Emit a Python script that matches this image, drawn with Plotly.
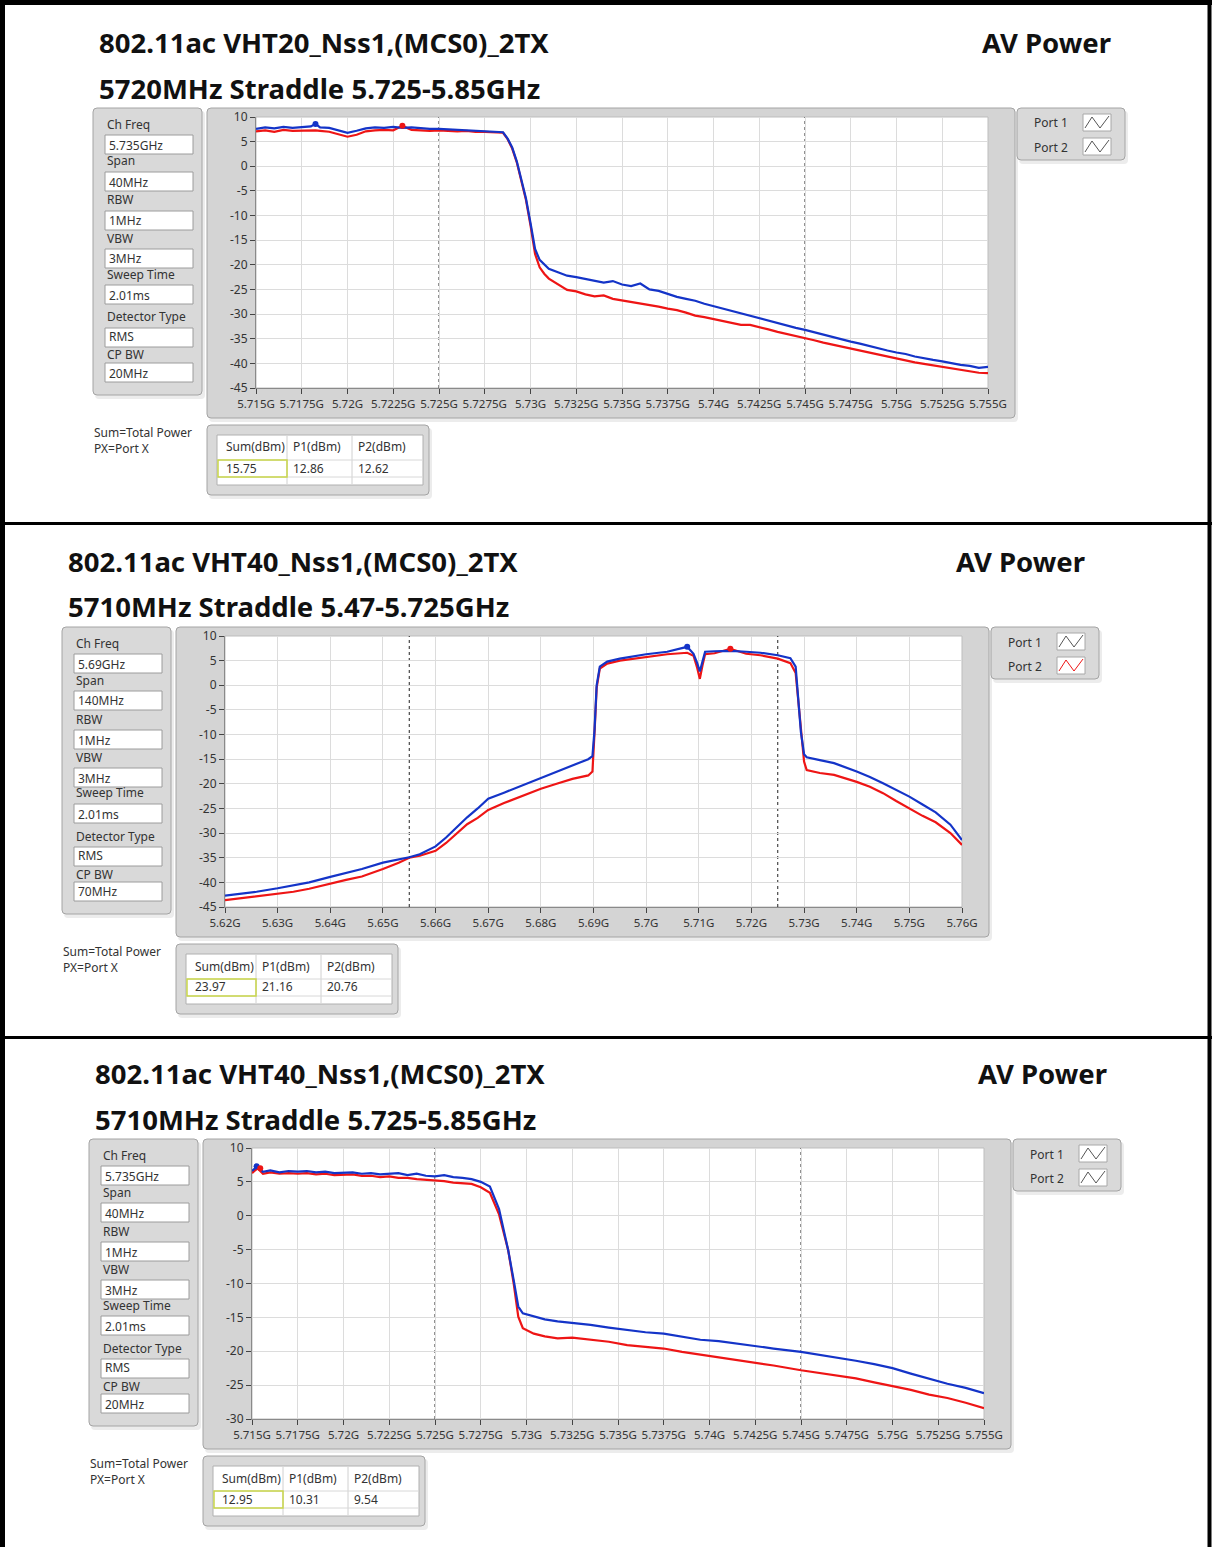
import plotly.graph_objects as go

W, H = 1212, 1547

# ---------------- data ----------------
titles_1 = ["802.11ac VHT20_Nss1,(MCS0)_2TX", "5720MHz Straddle 5.725-5.85GHz"]
titles_2 = ["802.11ac VHT40_Nss1,(MCS0)_2TX", "5710MHz Straddle 5.47-5.725GHz"]
titles_3 = ["802.11ac VHT40_Nss1,(MCS0)_2TX", "5710MHz Straddle 5.725-5.85GHz"]
mode_label = "AV Power"

info_labels = ["Ch Freq", "Span", "RBW", "VBW", "Sweep Time", "Detector Type", "CP BW"]
p1_info = ["5.735GHz", "40MHz", "1MHz", "3MHz", "2.01ms", "RMS", "20MHz"]
p2_info = ["5.69GHz", "140MHz", "1MHz", "3MHz", "2.01ms", "RMS", "70MHz"]
p3_info = ["5.735GHz", "40MHz", "1MHz", "3MHz", "2.01ms", "RMS", "20MHz"]

sum_notes = ["Sum=Total Power", "PX=Port X"]
table_headers = ["Sum(dBm)", "P1(dBm)", "P2(dBm)"]
p1_table = ["15.75", "12.86", "12.62"]
p2_table = ["23.97", "21.16", "20.76"]
p3_table = ["12.95", "10.31", "9.54"]

port_names = ["Port 1", "Port 2"]

p1_xticks = ["5.715G", "5.7175G", "5.72G", "5.7225G", "5.725G", "5.7275G", "5.73G", "5.7325G",
             "5.735G", "5.7375G", "5.74G", "5.7425G", "5.745G", "5.7475G", "5.75G", "5.7525G", "5.755G"]
p2_xticks = ["5.62G", "5.63G", "5.64G", "5.65G", "5.66G", "5.67G", "5.68G", "5.69G",
             "5.7G", "5.71G", "5.72G", "5.73G", "5.74G", "5.75G", "5.76G"]
p3_xticks = p1_xticks
p1_yticks = [10, 5, 0, -5, -10, -15, -20, -25, -30, -35, -40, -45]
p2_yticks = [10, 5, 0, -5, -10, -15, -20, -25, -30, -35, -40, -45]
p3_yticks = [10, 5, 0, -5, -10, -15, -20, -25, -30]

p1_limits = [5.725, 5.745]
p2_limits = [5.655, 5.725]
p3_limits = [5.725, 5.745]

# Panel 1 (frequency in MHz, level in dBm)
p1_freq = [5715, 5715.5, 5716, 5716.5, 5717, 5717.5, 5718, 5718.25, 5718.5, 5719, 5719.5, 5720,
           5720.5, 5721, 5721.5, 5722, 5722.5, 5723, 5723.5, 5724, 5724.5, 5725, 5725.5, 5726,
           5726.5, 5727, 5727.5, 5728, 5728.5, 5728.75, 5729, 5729.25, 5729.5, 5729.75, 5730,
           5730.25, 5730.5, 5730.75, 5731, 5731.5, 5732, 5732.5, 5733, 5733.5, 5734, 5734.5,
           5735, 5735.5, 5736, 5736.5, 5737, 5737.5, 5738, 5738.5, 5739, 5739.5, 5740, 5740.5,
           5741, 5741.5, 5742, 5742.5, 5743, 5743.5, 5744, 5744.5, 5745, 5745.5, 5746, 5746.5,
           5747, 5747.5, 5748, 5748.5, 5749, 5749.5, 5750, 5750.5, 5751, 5751.5, 5752, 5752.5,
           5753, 5753.5, 5754, 5754.5, 5755]
p1_port1 = [7.6, 7.9, 7.7, 8.0, 7.8, 7.9, 8.1, 8.6, 7.9, 7.8, 7.3, 6.8,
            7.2, 7.7, 7.9, 7.8, 8.0, 7.8, 7.9, 7.7, 7.6, 7.6, 7.5, 7.5,
            7.4, 7.3, 7.2, 7.1, 6.9, 5.6, 3.8, 1.0, -2.5, -6.5, -11.5,
            -16.8, -19.0, -19.8, -20.8, -21.5, -22.2, -22.5, -22.9, -23.2, -23.6, -23.3,
            -24.0, -24.3, -23.8, -25.0, -25.3, -25.9, -26.5, -26.9, -27.3, -27.9, -28.4, -28.9,
            -29.3, -29.9, -30.3, -30.8, -31.3, -31.9, -32.4, -32.8, -33.2, -33.7, -34.2, -34.6,
            -35.1, -35.6, -36.0, -36.5, -37.0, -37.4, -37.8, -38.1, -38.6, -39.0, -39.3, -39.6,
            -40.0, -40.3, -40.5, -40.9, -40.7]
p1_port2 = [7.1, 7.3, 7.0, 7.4, 7.2, 7.3, 7.4, 7.3, 7.2, 7.0, 6.5, 6.0,
            6.4, 7.1, 7.3, 7.4, 7.3, 8.2, 7.4, 7.3, 7.2, 7.3, 7.2, 7.1,
            7.2, 7.0, 7.0, 6.9, 6.8, 5.5, 3.6, 0.8, -2.7, -6.8, -12.0,
            -17.8, -20.5, -21.8, -22.8, -24.0, -25.1, -25.4, -26.0, -26.4, -26.2, -26.9,
            -27.2, -27.6, -27.8, -28.1, -28.5, -28.9, -29.2, -29.7, -30.3, -30.6, -31.0, -31.5,
            -31.8, -32.2, -32.2, -32.6, -33.1, -33.6, -34.0, -34.4, -34.9, -35.3, -35.8, -36.2,
            -36.6, -37.0, -37.4, -37.8, -38.3, -38.6, -39.0, -39.4, -39.8, -40.1, -40.4, -40.7,
            -41.0, -41.3, -41.5, -41.9, -42.0]
p1_peak1 = [5718.25, 8.6]
p1_peak2 = [5723.0, 8.2]

# Panel 2
p2_freq = [5620, 5623, 5626, 5630, 5633, 5636, 5640, 5643, 5646, 5650, 5653, 5655, 5657, 5660,
           5662, 5664, 5666, 5668, 5670, 5673, 5676, 5680, 5683, 5686, 5689, 5689.8, 5690.2,
           5690.6, 5691.2, 5692.6, 5695, 5700, 5704, 5707.8, 5709, 5709.7, 5710.2, 5710.7,
           5711.2, 5713, 5716, 5719, 5721.7, 5725, 5727.4, 5728.4, 5728.9, 5729.4, 5730,
           5730.5, 5733, 5735.7, 5740, 5742.5, 5745, 5747.5, 5750, 5752.5, 5755, 5757.8, 5760]
p2_port1 = [-42.7, -42.3, -41.9, -41.2, -40.6, -40.0, -38.9, -38.1, -37.3, -36.0, -35.4, -34.9,
            -34.3, -32.7, -30.9, -28.8, -26.8, -25.0, -23.0, -21.8, -20.5, -18.8, -17.6, -16.3,
            -15.0, -14.4, -9.0, 0.0, 3.8, 4.8, 5.4, 6.3, 6.8, 7.8, 6.4, 4.5, 2.8, 4.8, 6.8, 6.9,
            7.0, 6.8, 6.6, 6.1, 5.5, 3.8, -3.0, -9.5, -14.0, -14.6, -15.2, -15.8, -17.5, -18.6,
            -19.9, -21.2, -22.6, -24.2, -25.8, -28.3, -31.4]
p2_port2 = [-43.6, -43.2, -42.9, -42.3, -41.9, -41.3, -40.2, -39.5, -38.8, -37.3, -36.0, -35.0,
            -34.6, -33.6, -32.0, -30.0, -28.2, -26.9, -25.3, -23.9, -22.6, -21.0, -20.0, -19.0,
            -18.3, -17.5, -9.5, -0.5, 3.4, 4.4, 5.0, 5.8, 6.3, 6.6, 6.0, 3.5, 1.3, 4.0, 6.3, 6.5,
            7.4, 6.4, 6.1, 5.4, 4.5, 2.5, -3.5, -10.0, -15.5, -17.2, -17.8, -18.2, -19.6, -20.6,
            -21.9, -23.5, -25.0, -26.5, -27.8, -30.0, -32.4]
p2_peak1 = [5707.8, 7.8]
p2_peak2 = [5716.0, 7.4]

# Panel 3
p3_freq = [5715, 5715.3, 5715.6, 5716, 5716.5, 5717, 5717.5, 5718, 5718.5, 5719, 5719.5, 5720,
           5720.5, 5721, 5721.5, 5722, 5722.5, 5723, 5723.5, 5724, 5724.5, 5725, 5725.5, 5726,
           5726.5, 5727, 5727.5, 5728, 5728.5, 5729, 5729.3, 5729.55, 5729.8, 5730.4, 5731,
           5731.7, 5732.5, 5733.5, 5734.5, 5735.5, 5736.5, 5737.5, 5738.5, 5739.5, 5740.5,
           5741.5, 5742.5, 5743.5, 5745, 5746, 5747, 5748, 5749, 5750, 5751, 5752, 5753, 5754, 5755]
p3_port1 = [6.6, 7.3, 6.5, 6.7, 6.4, 6.6, 6.5, 6.6, 6.4, 6.5, 6.3, 6.3,
            6.4, 6.2, 6.3, 6.1, 6.2, 6.3, 6.0, 6.2, 5.9, 5.8, 6.0, 5.7,
            5.6, 5.4, 5.0, 4.3, 1.0, -5.1, -9.5, -13.4, -14.4, -14.9, -15.3,
            -15.6, -15.8, -16.1, -16.5, -16.9, -17.2, -17.4, -17.8, -18.3, -18.5,
            -18.9, -19.2, -19.6, -20.1, -20.5, -20.9, -21.4, -21.9, -22.5, -23.3, -24.1, -24.8, -25.4, -26.2]
p3_port2 = [6.3, 7.0, 6.2, 6.4, 6.2, 6.3, 6.2, 6.3, 6.1, 6.2, 6.0, 6.0,
            6.1, 5.9, 5.9, 5.7, 5.8, 5.6, 5.6, 5.4, 5.3, 5.3, 5.1, 4.9,
            4.8, 4.7, 4.2, 3.4, 0.2, -5.1, -10.0, -14.9, -16.6, -17.4, -17.8,
            -18.1, -18.0, -18.3, -18.6, -19.1, -19.4, -19.6, -20.1, -20.5, -20.9,
            -21.3, -21.6, -22.1, -22.8, -23.2, -23.6, -24.0, -24.6, -25.1, -25.7, -26.4, -26.9, -27.6, -28.4]
p3_peak1 = [5715.25, 7.3]
p3_peak2 = [5715.45, 7.0]

# ---------------- styling / layout helpers ----------------
BLUE = "#1434c8"
RED = "#ee1515"
FONT = "Noto Sans"
TXT = "#333333"

shapes = []
annotations = []


def X(px):
    return px / W


def Y(py):
    return 1 - py / H


def rect(x0, y0, x1, y1, fill, line="#a0a0a0", lw=1, layer="below"):
    shapes.append(dict(type="rect", xref="paper", yref="paper",
                       x0=X(x0), x1=X(x1), y0=Y(y1), y1=Y(y0),
                       fillcolor=fill, line=dict(color=line, width=lw), layer=layer))


def rrect(x0, y0, x1, y1, fill, line="#a4a4a4", r=4, lw=1):
    rx, ry = r / W, r / H
    a, b, c, d = X(x0), X(x1), Y(y0), Y(y1)
    p = (f"M {a+rx},{c} L {b-rx},{c} Q {b},{c} {b},{c-ry} L {b},{d+ry} Q {b},{d} {b-rx},{d} "
         f"L {a+rx},{d} Q {a},{d} {a},{d+ry} L {a},{c-ry} Q {a},{c} {a+rx},{c} Z")
    shapes.append(dict(type="path", path=p, xref="paper", yref="paper",
                       fillcolor=fill, line=dict(color=line, width=lw), layer="below"))


def pline(points, color, width=1, layer="above", dash="solid"):
    p = "M " + " L ".join(f"{X(x)},{Y(y)}" for x, y in points)
    shapes.append(dict(type="path", path=p, xref="paper", yref="paper",
                       line=dict(color=color, width=width, dash=dash), layer=layer))


def text(x, y, s, size=12, color=TXT, anchor="left", bold=False):
    annotations.append(dict(xref="paper", yref="paper", x=X(x), y=Y(y),
                            text=f"<b>{s}</b>" if bold else s, showarrow=False,
                            xanchor=anchor, yanchor="middle",
                            font=dict(size=size, color=color, family=FONT)))


panels = [
    dict(area=(256, 117, 988, 388), freq=p1_freq, port1=p1_port1, port2=p1_port2,
         xt=p1_xticks, yt=p1_yticks, limits=p1_limits, titles=titles_1, info=p1_info,
         table=p1_table, peaks=(p1_peak1, p1_peak2), leg2="#555555"),
    dict(area=(225, 636, 962, 907), freq=p2_freq, port1=p2_port1, port2=p2_port2,
         xt=p2_xticks, yt=p2_yticks, limits=p2_limits, titles=titles_2, info=p2_info,
         table=p2_table, peaks=(p2_peak1, p2_peak2), leg2=RED),
    dict(area=(252, 1148, 984, 1419), freq=p3_freq, port1=p3_port1, port2=p3_port2,
         xt=p3_xticks, yt=p3_yticks, limits=p3_limits, titles=titles_3, info=p3_info,
         table=p3_table, peaks=(p3_peak1, p3_peak2), leg2="#555555"),
]

fig = go.Figure()
layout_axes = {}

for i, pn in enumerate(panels, start=1):
    L, T, R, B = pn["area"]
    fl, ft, fr, fb = L - 49, T - 9, R + 27, B + 30
    xs = "" if i == 1 else str(i)

    # titles
    text(fl - 110, T - 75, pn["titles"][0], size=27.5, color="#111111", bold=True)
    text(fl - 110, T - 29, pn["titles"][1], size=27.5, color="#111111", bold=True)
    text(fr + 98, T - 75, mode_label, size=27.5, color="#111111", anchor="right", bold=True)

    # graph frame
    rrect(fl + 2, ft + 3, fr + 3, fb + 4, "#ececec", line="rgba(0,0,0,0)")
    rrect(fl, ft, fr, fb, "#d4d4d4")
    rect(L, T, R, B, "#ffffff", line="#bdbdbd", lw=1)

    # info panel
    il, ir = fl - 114, fl - 5
    rrect(il + 2, T - 6, ir + 3, T + 282, "#ececec", line="rgba(0,0,0,0)")
    rrect(il, T - 9, ir, T + 278, "#d9d9d9")
    box_tops = [18, 55, 94, 132, 168, 211, 246]
    for k, (lab, val, bt) in enumerate(zip(info_labels, pn["info"], box_tops)):
        rect(il + 12, T + bt, il + 100, T + bt + 19, "#ffffff", line="#9c9c9c")
        lab_dy = -11 if k != 6 else -8
        val_dy = 10 if k != 5 else 8
        text(il + 12, T + bt + lab_dy, lab, size=12)
        text(il + 14, T + bt + val_dy, val, size=12)

    # legend
    ll, lr = fr + 2, fr + 110
    rrect(ll + 2, T - 6, lr + 3, T + 47, "#ececec", line="rgba(0,0,0,0)")
    rrect(ll, T - 9, lr, T + 43, "#d9d9d9")
    icon_colors = ["#555555", pn["leg2"]]
    for k, (nm, ic) in enumerate(zip(port_names, icon_colors)):
        cy = T + 6 + 24 * k
        text(ll + 15, cy, nm, size=12)
        bx0, by0, bx1, by1 = ll + 66, cy - 9, ll + 94, cy + 8
        rect(bx0, by0, bx1, by1, "#ffffff", line="#a8a8a8")
        pline([(bx0 + 2, by1 - 3), (bx0 + 9, by0 + 3), (bx0 + 17, by1 - 3), (bx1 - 2, by0 + 2)], ic, 1)

    # sum notes and table
    text(fl - 115, B + 44, sum_notes[0], size=12)
    text(fl - 115, B + 60, sum_notes[1], size=12)
    rrect(fl + 2, B + 40, fl + 225, B + 111, "#ececec", line="rgba(0,0,0,0)")
    rrect(fl, B + 37, fl + 222, B + 107, "#d9d9d9")
    rect(fl + 10, B + 47, fl + 216, B + 97, "#ffffff", line="#b0b0b0")
    for cx in (fl + 80, fl + 145):
        pline([(cx, B + 48), (cx, B + 96)], "#d0d0d0", 1, layer="below")
    for ry in (B + 72, B + 89):
        pline([(fl + 11, ry), (fl + 215, ry)], "#d8d8d8", 1, layer="below")
    rect(fl + 11, B + 72, fl + 80, B + 89, "rgba(0,0,0,0)", line="#c9d64a", lw=1.5, layer="above")
    col_x = [fl + 17, fl + 84, fl + 149]
    for cx, hd, vv in zip(col_x, table_headers, pn["table"]):
        text(cx, B + 59, hd, size=12)
        text(cx, B + 80, vv, size=12)

    # traces
    xa, ya = f"x{xs}", f"y{xs}"
    fghz = [f / 1000 for f in pn["freq"]]
    fig.add_trace(go.Scatter(x=fghz, y=pn["port2"], mode="lines", line=dict(color=RED, width=2.2),
                             xaxis=xa, yaxis=ya, showlegend=False, name=port_names[1]))
    fig.add_trace(go.Scatter(x=fghz, y=pn["port1"], mode="lines", line=dict(color=BLUE, width=2.2),
                             xaxis=xa, yaxis=ya, showlegend=False, name=port_names[0]))
    pk1, pk2 = pn["peaks"]
    fig.add_trace(go.Scatter(x=[pk1[0] / 1000], y=[pk1[1]], mode="markers",
                             marker=dict(color=BLUE, size=6), xaxis=xa, yaxis=ya, showlegend=False))
    fig.add_trace(go.Scatter(x=[pk2[0] / 1000], y=[pk2[1]], mode="markers",
                             marker=dict(color=RED, size=6), xaxis=xa, yaxis=ya, showlegend=False))

    # band-edge limit lines
    ymin, ymax = min(pn["yt"]), max(pn["yt"])
    for lim in pn["limits"]:
        shapes.append(dict(type="line", xref=xa, yref=ya, x0=lim, x1=lim, y0=ymin, y1=ymax,
                           line=dict(color="#222222", width=1, dash="3px,3px"), layer="below"))

    tickvals = [float(s[:-1]) for s in pn["xt"]]
    layout_axes[f"xaxis{xs}"] = dict(
        domain=[X(L), X(R)], range=[tickvals[0], tickvals[-1]], anchor=ya,
        tickmode="array", tickvals=tickvals, ticktext=pn["xt"], tickangle=0,
        ticks="outside", ticklen=5, tickcolor="#444444",
        tickfont=dict(family=FONT, size=11.5, color=TXT),
        showgrid=True, gridcolor="#dcdcdc", gridwidth=1, zeroline=False,
        showline=True, linecolor="#8a8a8a", linewidth=1, fixedrange=True)
    layout_axes[f"yaxis{xs}"] = dict(
        domain=[Y(B), Y(T)], range=[ymin, ymax], anchor=xa,
        tickmode="array", tickvals=pn["yt"], ticktext=[str(v) for v in pn["yt"]],
        ticks="outside", ticklen=5, tickcolor="#444444",
        tickfont=dict(family=FONT, size=12, color=TXT),
        showgrid=True, gridcolor="#dcdcdc", gridwidth=1, zeroline=False,
        showline=True, linecolor="#8a8a8a", linewidth=1, fixedrange=True)

# outer black borders and dividers
pline([(2.5, 0), (2.5, H)], "#000000", 5)
pline([(0, 2.5), (W, 2.5)], "#000000", 5)
pline([(W - 2.5, 0), (W - 2.5, H)], "#000000", 4)
pline([(0, 523.5), (W, 523.5)], "#000000", 3)
pline([(0, 1037.5), (W, 1037.5)], "#000000", 3)

fig.update_layout(
    width=W, height=H, margin=dict(l=0, r=0, t=0, b=0, pad=0, autoexpand=False),
    autosize=False,
    paper_bgcolor="#ffffff", plot_bgcolor="rgba(0,0,0,0)",
    shapes=shapes, annotations=annotations, showlegend=False,
    **layout_axes,
)

fig.write_html(
    "out.html",
    config={"displayModeBar": False, "responsive": False},
    post_script=("document.documentElement.style.margin='0';"
                 "document.body.style.margin='0';"
                 "document.body.style.overflow='hidden';"
                 "document.documentElement.style.overflow='hidden';"),
)
